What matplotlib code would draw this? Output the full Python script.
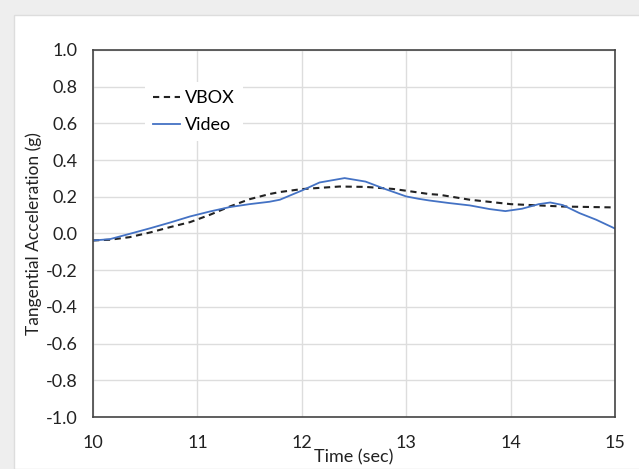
import numpy as np
import matplotlib.pyplot as plt
from matplotlib.patches import Rectangle

plt.rcParams['font.family'] = ['Lato', 'DejaVu Sans']

vbox_t = [10.0, 10.16, 10.35, 10.55, 10.74, 10.93, 11.12, 11.31, 11.5, 11.69,
          11.79, 12.0, 12.36, 12.61, 12.87, 13.0, 13.22, 13.32, 13.61, 14.0, 14.5, 15.0]
vbox_a = [-0.038, -0.034, -0.02, 0.006, 0.035, 0.062, 0.102, 0.147, 0.187, 0.215,
          0.226, 0.242, 0.256, 0.254, 0.243, 0.233, 0.215, 0.211, 0.184, 0.16, 0.147, 0.142]

video_t = [10.0, 10.16, 10.35, 10.55, 10.74, 10.93, 11.12, 11.31, 11.5, 11.69, 11.79,
           12.0, 12.17, 12.41, 12.61, 12.8, 13.0, 13.12, 13.22, 13.41, 13.61, 13.8,
           13.95, 14.11, 14.27, 14.38, 14.5, 14.66, 14.82, 15.0]
video_a = [-0.038, -0.031, -0.002, 0.029, 0.06, 0.093, 0.12, 0.144, 0.16, 0.173, 0.184,
           0.234, 0.278, 0.302, 0.283, 0.242, 0.202, 0.189, 0.18, 0.166, 0.153, 0.133,
           0.122, 0.135, 0.16, 0.169, 0.155, 0.111, 0.075, 0.027]

y_ticks = [-1.0, -0.8, -0.6, -0.4, -0.2, 0.0, 0.2, 0.4, 0.6, 0.8, 1.0]
x_ticks = [10, 11, 12, 13, 14, 15]

fig = plt.figure(figsize=(6.39, 4.69), dpi=100)
fig.patch.set_facecolor('#eeeeee')
fig.patches.append(Rectangle((14 / 639, 0), 1, 1 - 15 / 469, transform=fig.transFigure,
                             facecolor='white', edgecolor='#dddddd', lw=1, zorder=-1))
ax = fig.add_axes([93 / 639, 1 - 417 / 469, 522 / 639, 367 / 469])
ax.set_facecolor('white')

ax.plot(vbox_t, vbox_a, '--', color='#222222', lw=1.5, dashes=(3, 2.2), label='VBOX')
ax.plot(video_t, video_a, '-', color='#4472C4', lw=1.3, label='Video')

ax.set_xlim(10, 15)
ax.set_ylim(-1.0, 1.0)
ax.set_xticks(x_ticks)
ax.set_yticks(y_ticks)
ax.set_yticklabels([f'{v:.1f}' for v in y_ticks])
ax.grid(True, color='#dddddd', lw=1)
ax.set_axisbelow(True)
ax.tick_params(length=0, labelsize=13, colors='#222222')
ax.tick_params(axis='y', pad=11)
ax.tick_params(axis='x', pad=13)
for s in ax.spines.values():
    s.set_color('#444444')
    s.set_linewidth(1.2)

ax.set_xlabel('Time (sec)', fontsize=13, labelpad=-1, color='#222222')
ax.set_ylabel('Tangential Acceleration (g)', fontsize=12.5, labelpad=3, color='#222222')

leg = ax.legend(loc='upper left', bbox_to_anchor=(0.1, 0.912), frameon=True, fontsize=13,
                handlelength=1.45, handletextpad=0.3, labelspacing=0.6, borderpad=0.45,
                borderaxespad=0)
leg.get_frame().set_edgecolor('none')
leg.get_frame().set_facecolor('white')
leg.get_frame().set_alpha(1)
leg.get_frame().set_boxstyle('square', pad=0)

plt.savefig('out.png', dpi=100)
